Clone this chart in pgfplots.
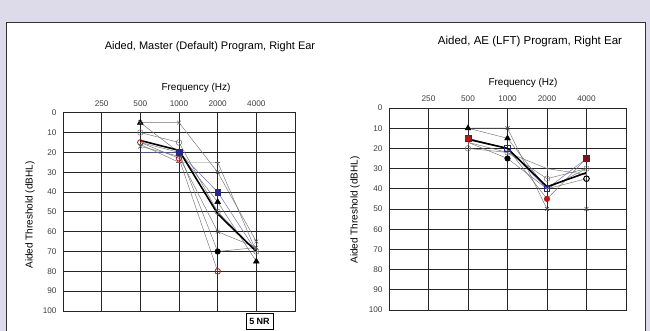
\documentclass[border=0pt]{standalone}
\usepackage{fontspec}
\setmainfont{Liberation Sans}
\usepackage{pgfplots}
\pgfplotsset{compat=1.18}
\definecolor{lav}{RGB}{221,219,234}
\definecolor{navy}{RGB}{40,40,140}
\definecolor{dred}{RGB}{190,20,20}
\definecolor{maroonc}{RGB}{125,15,30}
\begin{document}
\begin{tikzpicture}
\useasboundingbox (0pt,0pt) rectangle (650pt,331pt);
\begin{scope}[x=1pt,y=1pt]
\fill[lav] (0,0) rectangle (650,331);
\fill[white] (6,0) rectangle (645,309);
\draw[black!80, line width=0.9pt] (6,-2) -- (6,309) -- (645,309) -- (645,-2);
% left texts
\node[font=\fontsize{11}{13}\selectfont] at (210,284) {Aided, Master (Default) Program, Right Ear};
\node[font=\fontsize{10}{12}\selectfont] at (196,243) {Frequency (Hz)};
\node[draw=black, line width=0.8pt, font=\bfseries\fontsize{9}{10}\selectfont, minimum width=27pt, minimum height=16pt, inner sep=1pt] at (259.5,10) {5 NR};
% right texts
\node[font=\fontsize{11.5}{13}\selectfont] at (530,289) {Aided, AE (LFT) Program, Right Ear};
\node[font=\fontsize{10}{12}\selectfont] at (523,248) {Frequency (Hz)};
\end{scope}
\node[font=\fontsize{10}{12}\selectfont, rotate=90] at (30pt,116pt) {Aided Threshold (dBHL)};
\node[font=\fontsize{10}{12}\selectfont, rotate=90] at (355pt,121pt) {Aided Threshold (dBHL)};
\pgfplotsset{aud/.style={
  scale only axis, y dir=reverse, ymin=0, ymax=100, xmin=-1, xmax=5,
  xtick={0,...,4}, xticklabels={250,500,1000,2000,4000}, xticklabel pos=upper,
  ytick={0,10,...,100}, grid=major,
  major grid style={black!85, line width=0.8pt},
  tick style={draw=none},
  axis line style={black!85, line width=0.8pt},
  tick label style={font=\fontsize{8.2}{9}\selectfont, text=black!75},
  xticklabel style={yshift=3pt},
  yticklabel style={xshift=-3pt},
  /pgf/number format/assume math mode=true,
  clip=false,
  every axis plot/.append style={line width=0.45pt, mark size=2.8pt},
}}
% ---------- Left chart ----------
\begin{axis}[aud, at={(63pt,20pt)}, anchor=south west, width=232pt, height=198.3pt]
\addplot[black!55, mark=triangle*, mark options={fill=black, draw=black, scale=1.2}] coordinates {(1,5)(2,20)(3,45)(4,75)};
\addplot[black!55, mark=x, mark options={draw=black!70}] coordinates {(1,5)(2,5)(3,30)(4,65)};
\addplot[black!55, mark=x, mark options={draw=black!70}] coordinates {(1,17)(2,22)(3,60)(4,68)};
\addplot[black!55, mark=o, mark options={draw=black!60}] coordinates {(1,10)(2,15)(3,50)(4,70)};
\addplot[black!55, mark=o, mark options={draw=dred, line width=0.8pt}] coordinates {(1,15)(2,23)(3,80)};
\addplot[navy!70, mark=square*, mark indices={2,3}, mark options={fill=navy, draw=navy}] coordinates {(1,20)(2,20)(3,40)(4,70)};
\addplot[black!55, mark=*, mark indices={3}, mark options={fill=black, draw=black}] coordinates {(1,15)(2,20)(3,70)(4,68)};
\addplot[black!55, mark=-, mark options={draw=black!60}] coordinates {(1,16)(2,25)(3,25)(4,70)};
\addplot[black, line width=1.6pt] coordinates {(1,14)(2,19)(3,51)(4,70)};
\end{axis}
% ---------- Right chart ----------
\begin{axis}[aud, at={(389pt,21pt)}, anchor=south west, width=237pt, height=202pt]
\addplot[black!55, mark=triangle*, mark indices={1,2}, mark options={fill=black, draw=black, scale=1.2}] coordinates {(1,10)(2,15)(3,40)(4,30)};
\addplot[black!55, mark=x, mark indices={2,3,4}, mark options={draw=black!70}] coordinates {(1,10)(2,10)(3,50)(4,50)};
\addplot[black!55, mark=o, mark options={draw=black!55, fill=white}] coordinates {(1,20)(2,22)(3,35)(4,30)};
\addplot[black!55, mark=|, mark options={draw=black!60}] coordinates {(1,17)(2,22)(3,30)(4,33)};
\addplot[black!55, mark=*, mark indices={2}, mark options={fill=black, draw=black}] coordinates {(1,17)(2,25)(3,40)(4,35)};
\addplot[only marks, mark=o, mark options={draw=black, line width=1pt}] coordinates {(4,35)};
\addplot[navy!70, mark=square, mark indices={2,3}, mark options={draw=navy, fill=white, line width=0.8pt}] coordinates {(1,15)(2,20)(3,40)(4,25)};
\addplot[black!55, mark=square*, mark indices={1,4}, mark options={fill=maroonc, draw=navy}] coordinates {(1,15)(2,20)(3,45)(4,25)};
\addplot[only marks, mark=*, mark options={fill=dred, draw=dred}] coordinates {(1,15)(3,45)};
\addplot[black, line width=1.6pt] coordinates {(1,15.5)(2,20)(3,39)(4,32)};
\end{axis}
\end{tikzpicture}
\end{document}
